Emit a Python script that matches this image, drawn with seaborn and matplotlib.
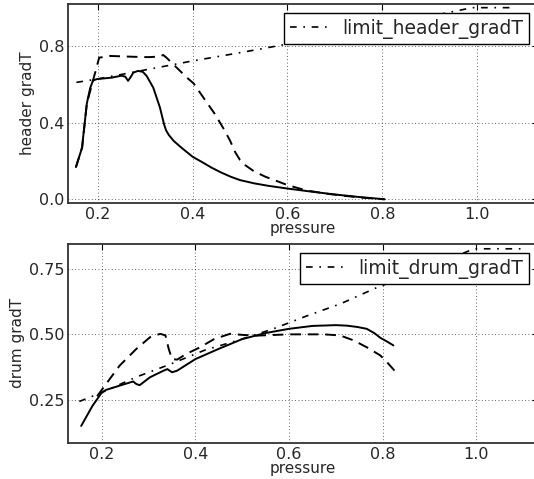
import matplotlib
matplotlib.use("Agg")
import matplotlib.pyplot as plt
import seaborn as sns

# top panel: header
hdr_p = [0.154, 0.167, 0.169, 0.177, 0.184, 0.19, 0.198, 0.21, 0.23, 0.25,
         0.258, 0.264, 0.27, 0.275, 0.285, 0.295, 0.303, 0.317, 0.331, 0.34,
         0.344, 0.35, 0.36, 0.37, 0.38, 0.39, 0.4, 0.42, 0.44, 0.46,
         0.48, 0.5, 0.53, 0.56, 0.6, 0.65, 0.7, 0.75, 0.805]
hdr_g = [0.168, 0.27, 0.32, 0.50, 0.58, 0.62, 0.627, 0.63, 0.635, 0.645,
         0.64, 0.618, 0.64, 0.661, 0.67, 0.665, 0.644, 0.583, 0.48, 0.39,
         0.36, 0.335, 0.305, 0.283, 0.262, 0.242, 0.222, 0.194, 0.165, 0.14,
         0.118, 0.1, 0.083, 0.07, 0.056, 0.04, 0.025, 0.012, 0.0]

hdr2_p = [0.154, 0.167, 0.177, 0.19, 0.203, 0.226, 0.26, 0.296, 0.31, 0.33,
          0.338, 0.345, 0.359, 0.388, 0.402, 0.43, 0.447, 0.465, 0.479, 0.49,
          0.5, 0.511, 0.53, 0.554, 0.58, 0.6, 0.64, 0.68, 0.72, 0.76, 0.805]
hdr2_g = [0.168, 0.27, 0.50, 0.62, 0.739, 0.748, 0.745, 0.742, 0.742, 0.745,
          0.753, 0.739, 0.705, 0.635, 0.605, 0.505, 0.445, 0.37, 0.306, 0.245,
          0.205, 0.178, 0.145, 0.117, 0.093, 0.074, 0.046, 0.03, 0.018, 0.008, 0.0]

lim_h_p = [0.155, 0.2, 0.3, 0.4, 0.5, 0.6, 0.7, 0.8, 0.9, 0.99, 1.08]
lim_h_g = [0.61, 0.628, 0.675, 0.722, 0.765, 0.81, 0.857, 0.905, 0.955, 1.0, 1.0]

# bottom panel: drum
drum_p = [0.156, 0.18, 0.2, 0.209, 0.238, 0.267, 0.274, 0.281, 0.303, 0.332,
          0.34, 0.35, 0.361, 0.4, 0.45, 0.5, 0.55, 0.6, 0.65, 0.7,
          0.724, 0.746, 0.766, 0.782, 0.795, 0.81, 0.823]
drum_g = [0.152, 0.228, 0.279, 0.289, 0.305, 0.321, 0.311, 0.307, 0.337, 0.362,
          0.368, 0.356, 0.362, 0.406, 0.445, 0.482, 0.505, 0.521, 0.532, 0.535,
          0.533, 0.528, 0.521, 0.505, 0.487, 0.472, 0.458]

drum2_p = [0.19, 0.238, 0.274, 0.303, 0.325, 0.336, 0.343, 0.35, 0.361, 0.38,
           0.41, 0.44, 0.474, 0.5, 0.529, 0.6, 0.674, 0.709, 0.738, 0.766,
           0.795, 0.809, 0.834]
drum2_g = [0.265, 0.381, 0.445, 0.489, 0.502, 0.496, 0.445, 0.406, 0.404, 0.425,
           0.451, 0.482, 0.502, 0.498, 0.495, 0.5, 0.5, 0.496, 0.477, 0.451,
           0.42, 0.395, 0.345]

lim_d_p = [0.152, 0.2, 0.274, 0.347, 0.42, 0.492, 0.565, 0.638, 0.71, 0.788,
           0.85, 0.92, 0.995, 1.1]
lim_d_g = [0.245, 0.279, 0.338, 0.387, 0.44, 0.478, 0.52, 0.57, 0.616, 0.678,
           0.72, 0.77, 0.825, 0.825]

sns.set_style("white")
plt.rcParams['font.family'] = ['DejaVu Sans']
plt.rcParams['xtick.direction'] = 'in'
plt.rcParams['ytick.direction'] = 'in'

fig = plt.figure(figsize=(5.34, 4.79), dpi=100)
ax1 = fig.add_axes([0.128, 0.576, 0.88, 0.416])
ax2 = fig.add_axes([0.128, 0.075, 0.88, 0.4166])


def draw(ax, p1, g1, p2, g2, pl, gl, lab):
    sns.lineplot(x=p1, y=g1, ax=ax, color='k', lw=1.4, sort=False)
    sns.lineplot(x=p2, y=g2, ax=ax, color='k', lw=1.4, sort=False,
                 linestyle=(0, (5.5, 3.5)))
    sns.lineplot(x=pl, y=gl, ax=ax, color='k', lw=1.2, sort=False,
                 linestyle=(0, (4, 4, 1, 4)), label=lab)
    ax.grid(True, color='k', linestyle=(0, (1, 3)), lw=0.6, alpha=0.8)
    ax.set_xticks([0.2, 0.4, 0.6, 0.8, 1.0])
    ax.set_xlabel('pressure', fontsize=11, labelpad=-1)
    ax.tick_params(labelsize=11.5, top=True, right=True, length=4, width=0.8,
                   color='k', pad=3)
    for s in ax.spines.values():
        s.set_color('#333333')
        s.set_linewidth(1.3)
    leg = ax.legend(loc='upper right', fontsize=13.5, fancybox=False,
                    framealpha=1, edgecolor='k', borderaxespad=0.5,
                    handlelength=2.0, borderpad=0.3)
    leg.get_frame().set_linewidth(1.0)


draw(ax1, hdr_p, hdr_g, hdr2_p, hdr2_g, lim_h_p, lim_h_g, 'limit_header_gradT')
ax1.set_xlim(0.138, 1.129)
ax1.set_ylim(-0.02, 1.02)
ax1.set_yticks([0.0, 0.4, 0.8])
ax1.set_yticklabels(['0.0', '0.4', '0.8'])
ax1.set_ylabel('header gradT', fontsize=11, labelpad=3)

draw(ax2, drum_p, drum_g, drum2_p, drum2_g, lim_d_p, lim_d_g, 'limit_drum_gradT')
ax2.set_xlim(0.1286, 1.1325)
ax2.set_ylim(0.087, 0.845)
ax2.set_yticks([0.25, 0.5, 0.75])
ax2.set_yticklabels(['0.25', '0.50', '0.75'])
ax2.set_ylabel('drum gradT', fontsize=11, labelpad=3)

fig.savefig('out.png', dpi=100)
